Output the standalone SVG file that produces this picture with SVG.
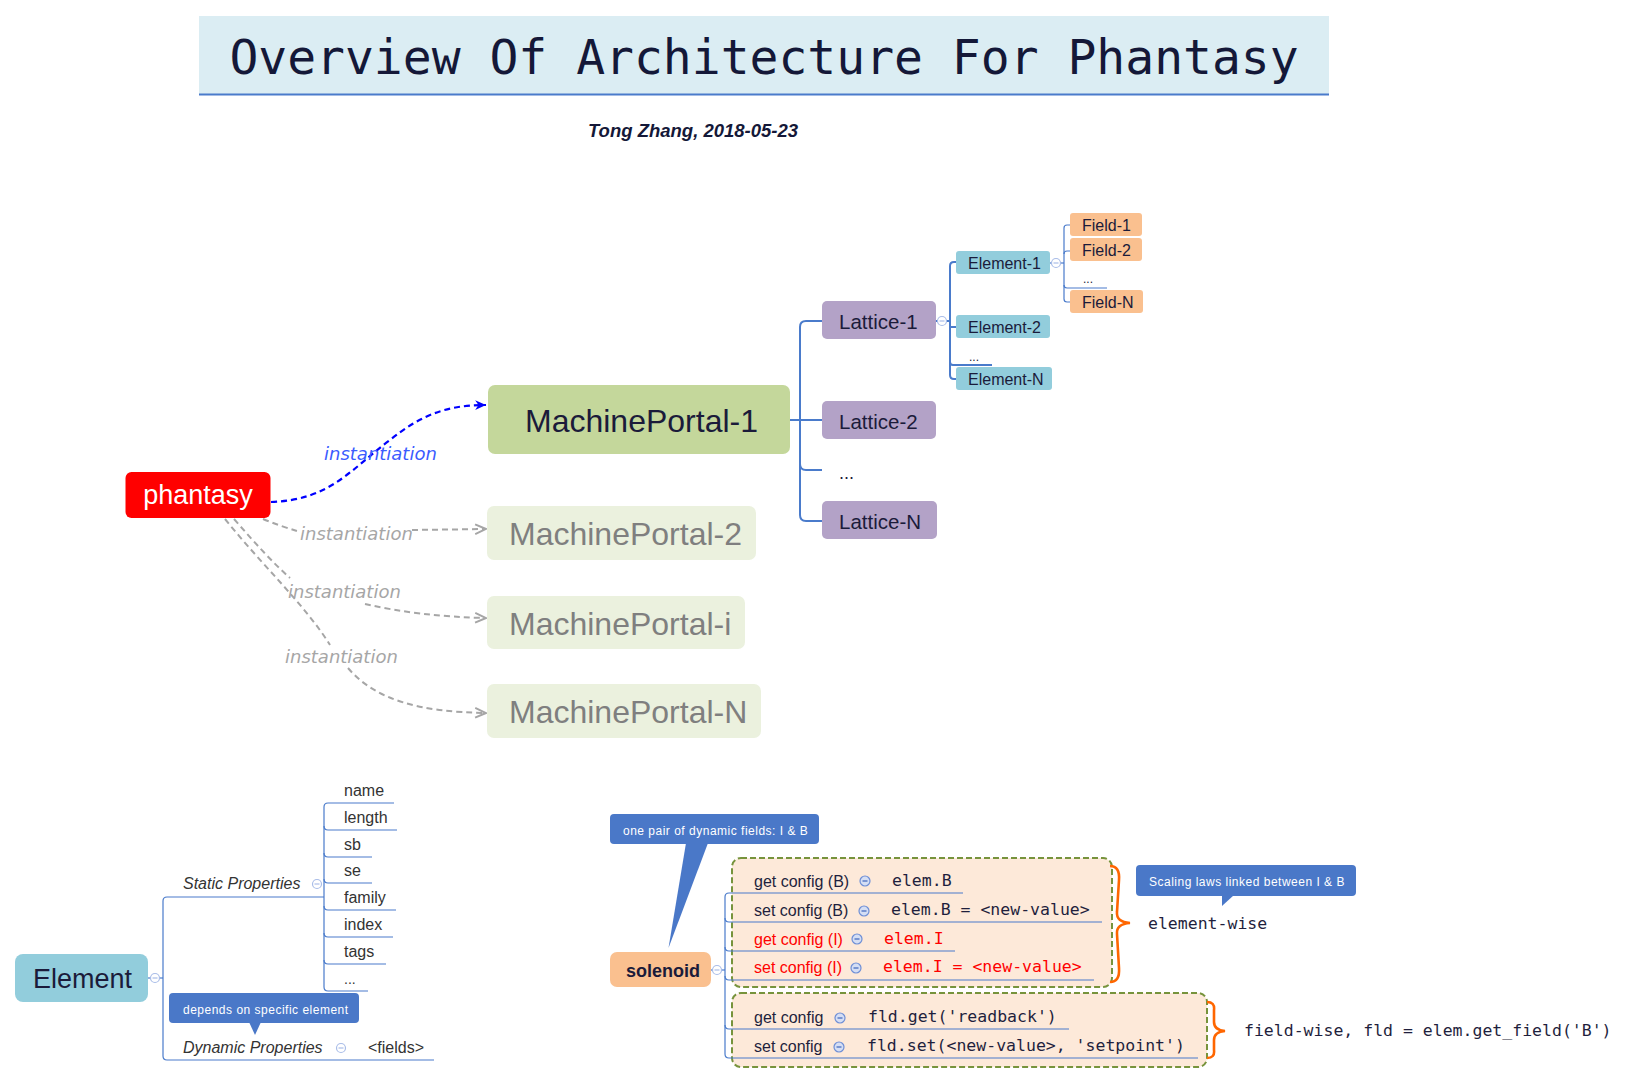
<svg xmlns="http://www.w3.org/2000/svg" width="1640" height="1084" viewBox="0 0 1640 1084">
<defs>
<style>
.sans{font-family:"Liberation Sans",Arial,sans-serif}
.mono{font-family:"DejaVu Sans Mono","Liberation Mono",monospace;font-size:16.5px}
.dark{fill:#1b1b3a}
.gray{fill:#333333}
.lnk{fill:none;stroke:#4a7bcb;stroke-width:2}
.lnk1{fill:none;stroke:#4a7bcb;stroke-width:1.2}
.call{fill:#4a78c8}
.calltxt{font-family:"Liberation Sans",Arial,sans-serif;font-size:12px;fill:#ffffff;letter-spacing:0.5px}
.lbl{font-family:"DejaVu Sans",sans-serif;font-style:italic;font-size:18px}
.row{font-family:"Liberation Sans",Arial,sans-serif;font-size:16px;fill:#1f1f3d}
.red{fill:#ff0000}
.brace{fill:none;stroke:#ff6600;stroke-width:2.6}
.grp{fill:#fde9d9;stroke:#77933c;stroke-width:2;stroke-dasharray:6 3}
</style>
<g id="col"><circle r="4.5" fill="#ffffff" stroke="#a9bde8" stroke-width="1.2"/><line x1="-2.5" y1="0" x2="2.5" y2="0" stroke="#a9bde8" stroke-width="1.2"/></g>
<g id="colf"><circle r="5" fill="#d5def4" stroke="#6f8fd6" stroke-width="1.2"/><line x1="-2.5" y1="0" x2="2.5" y2="0" stroke="#4a6fc0" stroke-width="1.3"/></g>
<marker id="arrB" viewBox="0 0 12 12" refX="11" refY="6" markerWidth="13" markerHeight="13" markerUnits="userSpaceOnUse" orient="auto"><path d="M1,1.5 L11,6 L1,10.5 L4,6 z" fill="#0000ff"/></marker>
<marker id="arrG" viewBox="0 0 12 12" refX="11" refY="6" markerWidth="13" markerHeight="13" markerUnits="userSpaceOnUse" orient="auto"><path d="M1,1.5 L11,6 L1,10.5" fill="none" stroke="#a6a6a6" stroke-width="1.8"/></marker>
</defs>
<rect width="1640" height="1084" fill="#ffffff"/>

<g id="title">
<rect x="199" y="16" width="1130" height="78" fill="#dbedf3"/>
<line x1="199" y1="94.5" x2="1329" y2="94.5" stroke="#4a7bcb" stroke-width="2"/>
<text x="764" y="74" text-anchor="middle" font-family="DejaVu Sans Mono, monospace" font-size="48" fill="#141838">Overview Of Architecture For Phantasy</text>
</g>
<g id="author">
<text x="588" y="137" class="sans" font-size="18.5" font-style="italic" font-weight="bold" fill="#141838">Tong Zhang, 2018-05-23</text>
</g>

<g id="connectors">
<!-- phantasy to MachinePortals -->
<path d="M271,502 C330,500 350,470 390,440 C420,416 445,405 486,405" fill="none" stroke="#0000ff" stroke-width="2.2" stroke-dasharray="6 4" marker-end="url(#arrB)"/>
<path d="M263,519 C275,524 287,528 297,531" fill="none" stroke="#a6a6a6" stroke-width="2" stroke-dasharray="6 4"/>
<path d="M412,530 L486,529" fill="none" stroke="#a6a6a6" stroke-width="2" stroke-dasharray="6 4" marker-end="url(#arrG)"/>
<path d="M234,519 C255,543 272,562 290,578" fill="none" stroke="#a6a6a6" stroke-width="2" stroke-dasharray="6 4"/>
<path d="M365,604 C400,612 440,617 486,618" fill="none" stroke="#a6a6a6" stroke-width="2" stroke-dasharray="6 4" marker-end="url(#arrG)"/>
<path d="M225,519 C262,565 305,605 330,645" fill="none" stroke="#a6a6a6" stroke-width="2" stroke-dasharray="6 4"/>
<path d="M348,668 C375,700 420,712 486,713" fill="none" stroke="#a6a6a6" stroke-width="2" stroke-dasharray="6 4" marker-end="url(#arrG)"/>

<!-- MachinePortal-1 to lattices -->
<path class="lnk" d="M790,420 L822,420"/>
<path class="lnk" d="M822,321 L806,321 Q800,321 800,327 L800,515 Q800,521 806,521 L822,521"/>
<path class="lnk" d="M800,464 Q800,470 806,470 L822,470"/>
<!-- Lattice-1 to elements -->
<path class="lnk" d="M936,321 L950,321"/>
<path class="lnk" d="M956,262 L954,262 Q950,262 950,266 L950,375 Q950,379 954,379 L956,379"/>
<path class="lnk" d="M950,327 L956,327"/>
<path class="lnk" d="M950,362 Q950,365 953,365 L992,365"/>
<!-- Element-1 to fields -->
<path class="lnk1" d="M1050,263 L1064,263"/>
<path class="lnk1" d="M1070,225 L1067,225 Q1064,225 1064,228 L1064,299 Q1064,302 1067,302 L1070,302"/>
<path class="lnk1" d="M1064,254 Q1064,251 1067,251 L1070,251"/>
<path class="lnk1" d="M1064,285 Q1064,288 1067,288 L1107,288"/>

<!-- Element tree -->
<path class="lnk1" d="M148,978 L163,978"/>
<path class="lnk1" d="M324,897 L167,897 Q163,897 163,901 L163,1056 Q163,1060 167,1060 L434,1060"/>
<path class="lnk1" d="M394,803 L328,803 Q324,803 324,807 L324,987 Q324,991 328,991 L368,991"/>
<path class="lnk1" d="M324,826 Q324,830 328,830 L397,830"/>
<path class="lnk1" d="M324,853 Q324,857 328,857 L372,857"/>
<path class="lnk1" d="M324,879 Q324,883 328,883 L372,883"/>
<path class="lnk1" d="M324,906 Q324,910 328,910 L396,910"/>
<path class="lnk1" d="M324,933 Q324,937 328,937 L393,937"/>
<path class="lnk1" d="M324,960 Q324,964 328,964 L386,964"/>
</g>

<g id="phantasy">
<rect x="125.5" y="472" width="145" height="46" rx="6" fill="#ff0000"/>
<text x="198" y="504" text-anchor="middle" class="sans" font-size="27" fill="#ffffff">phantasy</text>
</g>
<g id="label-inst-1"><text x="324" y="460" class="lbl" fill="#3b5cff">instantiation</text></g>
<g id="label-inst-2"><text x="300" y="540" class="lbl" fill="#a6a6a6">instantiation</text></g>
<g id="label-inst-i"><text x="288" y="598" class="lbl" fill="#a6a6a6">instantiation</text></g>
<g id="label-inst-N"><text x="285" y="663" class="lbl" fill="#a6a6a6">instantiation</text></g>

<g id="mp1">
<rect x="488" y="385" width="302" height="69" rx="7" fill="#c4d79b"/>
<text x="525" y="432" class="sans dark" font-size="32">MachinePortal-1</text>
</g>
<g id="mp2">
<rect x="487" y="506" width="269" height="54" rx="7" fill="#ebf1de"/>
<text x="509" y="545" class="sans" font-size="32" fill="#7f7f7f">MachinePortal-2</text>
</g>
<g id="mpi">
<rect x="487" y="596" width="258" height="53" rx="7" fill="#ebf1de"/>
<text x="509" y="635" class="sans" font-size="32" fill="#7f7f7f">MachinePortal-i</text>
</g>
<g id="mpN">
<rect x="487" y="684" width="274" height="54" rx="7" fill="#ebf1de"/>
<text x="509" y="723" class="sans" font-size="32" fill="#7f7f7f">MachinePortal-N</text>
</g>

<g id="lattice1">
<rect x="822" y="301" width="114" height="38" rx="5" fill="#b3a2c7"/>
<text x="839" y="329" class="sans dark" font-size="20.5">Lattice-1</text>
<use href="#col" x="942" y="321"/>
</g>
<g id="lattice2">
<rect x="822" y="401" width="114" height="38" rx="5" fill="#b3a2c7"/>
<text x="839" y="429" class="sans dark" font-size="20.5">Lattice-2</text>
</g>
<g id="lattice-dots"><text x="839" y="479" class="sans dark" font-size="18">...</text></g>
<g id="latticeN">
<rect x="822" y="501" width="115" height="38" rx="5" fill="#b3a2c7"/>
<text x="839" y="529" class="sans dark" font-size="20.5">Lattice-N</text>
</g>

<g id="element1">
<rect x="956" y="251" width="94" height="23" rx="3" fill="#92cddc"/>
<text x="968" y="269" class="sans dark" font-size="16">Element-1</text>
<use href="#col" x="1056" y="263"/>
</g>
<g id="element2">
<rect x="956" y="315" width="94" height="23" rx="3" fill="#92cddc"/>
<text x="968" y="333" class="sans dark" font-size="16">Element-2</text>
</g>
<g id="element-dots"><text x="969" y="361" class="sans dark" font-size="12">...</text></g>
<g id="elementN">
<rect x="956" y="367" width="96" height="23" rx="3" fill="#92cddc"/>
<text x="968" y="385" class="sans dark" font-size="16">Element-N</text>
</g>

<g id="field1">
<rect x="1070" y="213" width="72" height="23" rx="3" fill="#fac08f"/>
<text x="1082" y="231" class="sans dark" font-size="16">Field-1</text>
</g>
<g id="field2">
<rect x="1070" y="238" width="72" height="23" rx="3" fill="#fac08f"/>
<text x="1082" y="256" class="sans dark" font-size="16">Field-2</text>
</g>
<g id="field-dots"><text x="1083" y="283" class="sans dark" font-size="12">...</text></g>
<g id="fieldN">
<rect x="1070" y="290" width="73" height="23" rx="3" fill="#fac08f"/>
<text x="1082" y="308" class="sans dark" font-size="16">Field-N</text>
</g>

<g id="element">
<rect x="15" y="954" width="133" height="48" rx="8" fill="#92cddc"/>
<text x="33" y="988" class="sans dark" font-size="27">Element</text>
<use href="#col" x="155" y="978"/>
</g>
<g id="static-props">
<text x="183" y="889" class="sans gray" font-size="16" font-style="italic">Static Properties</text>
<use href="#col" x="317" y="884"/>
</g>
<g id="prop-name"><text x="344" y="796" class="sans gray" font-size="16">name</text></g>
<g id="prop-length"><text x="344" y="823" class="sans gray" font-size="16">length</text></g>
<g id="prop-sb"><text x="344" y="850" class="sans gray" font-size="16">sb</text></g>
<g id="prop-se"><text x="344" y="876" class="sans gray" font-size="16">se</text></g>
<g id="prop-family"><text x="344" y="903" class="sans gray" font-size="16">family</text></g>
<g id="prop-index"><text x="344" y="930" class="sans gray" font-size="16">index</text></g>
<g id="prop-tags"><text x="344" y="957" class="sans gray" font-size="16">tags</text></g>
<g id="prop-dots"><text x="344" y="984" class="sans gray" font-size="14">...</text></g>
<g id="dynamic-props">
<text x="183" y="1053" class="sans gray" font-size="16" font-style="italic">Dynamic Properties</text>
<use href="#col" x="341" y="1048"/>
</g>
<g id="fields"><text x="368" y="1053" class="sans gray" font-size="16">&lt;fields&gt;</text></g>
<g id="callout-depends">
<rect x="169" y="993" width="190" height="30" rx="4" class="call"/>
<polygon points="249,1022 261,1022 255,1035" class="call"/>
<text x="183" y="1014" class="calltxt">depends on specific element</text>
</g>

<g id="solenoid-groups">
<rect x="732" y="858" width="380" height="129" rx="9" class="grp"/>
<rect x="732" y="993" width="475" height="74" rx="9" class="grp"/>
</g>
<g id="solenoid-links">
<path class="lnk1" d="M711,970 L725,970"/>
<path class="lnk1" d="M963,893 L729,893 Q725,893 725,897 L725,1054 Q725,1058 729,1058 L1198,1058"/>
<path class="lnk1" d="M725,918 Q725,922 729,922 L1102,922"/>
<path class="lnk1" d="M725,947 Q725,951 729,951 L955,951"/>
<path class="lnk1" d="M725,976 Q725,980 729,980 L1094,980"/>
<path class="lnk1" d="M725,1025 Q725,1029 729,1029 L1069,1029"/>
</g>
<g id="solenoid">
<rect x="610" y="952" width="101" height="35" rx="7" fill="#fac08f"/>
<text x="626" y="977" class="sans dark" font-size="18" font-weight="bold">solenoid</text>
<use href="#col" x="717" y="970"/>
</g>
<g id="callout-pair">
<polygon points="686,843 708,843 668.5,948" class="call"/>
<rect x="610" y="814" width="209" height="30" rx="4" class="call"/>
<text x="623" y="835" class="calltxt">one pair of dynamic fields: I &amp; B</text>
</g>
<g id="row-get-B">
<text x="754" y="887" class="row">get config (B)</text>
<use href="#colf" x="865" y="881"/>
<text x="892" y="886" class="mono" fill="#1f1f3d">elem.B</text>
</g>
<g id="row-set-B">
<text x="754" y="916" class="row">set config (B)</text>
<use href="#colf" x="864" y="911"/>
<text x="891" y="915" class="mono" fill="#1f1f3d">elem.B = &lt;new-value&gt;</text>
</g>
<g id="row-get-I">
<text x="754" y="945" class="row red">get config (I)</text>
<use href="#colf" x="857" y="939"/>
<text x="884" y="944" class="mono" fill="#ff0000">elem.I</text>
</g>
<g id="row-set-I">
<text x="754" y="973" class="row red">set config (I)</text>
<use href="#colf" x="856" y="968"/>
<text x="883" y="972" class="mono" fill="#ff0000">elem.I = &lt;new-value&gt;</text>
</g>
<g id="row-get">
<text x="754" y="1023" class="row">get config</text>
<use href="#colf" x="840" y="1018"/>
<text x="868" y="1022" class="mono" fill="#1f1f3d">fld.get('readback')</text>
</g>
<g id="row-set">
<text x="754" y="1052" class="row">set config</text>
<use href="#colf" x="839" y="1047"/>
<text x="867" y="1051" class="mono" fill="#1f1f3d">fld.set(&lt;new-value&gt;, 'setpoint')</text>
</g>
<g id="brace-element">
<path class="brace" d="M1110,866 Q1120,866 1119,880 L1117,912 Q1116,922 1130,923 Q1116,924 1117,934 L1119,968 Q1120,982 1110,982"/>
</g>
<g id="brace-field">
<path class="brace" d="M1207,1002 Q1215,1002 1214,1010 L1214,1022 Q1214,1030 1225,1031 Q1214,1032 1214,1040 L1214,1050 Q1215,1058 1207,1058"/>
</g>
<g id="callout-scaling">
<rect x="1136" y="865" width="220" height="31" rx="4" class="call"/>
<polygon points="1222,895 1234,895 1222,906" class="call"/>
<text x="1149" y="886" class="calltxt">Scaling laws linked between I &amp; B</text>
</g>
<g id="element-wise"><text x="1148" y="929" class="mono" fill="#1f1f3d">element-wise</text></g>
<g id="field-wise"><text x="1244" y="1036" class="mono" fill="#1f1f3d">field-wise, fld = elem.get_field('B')</text></g>
</svg>
